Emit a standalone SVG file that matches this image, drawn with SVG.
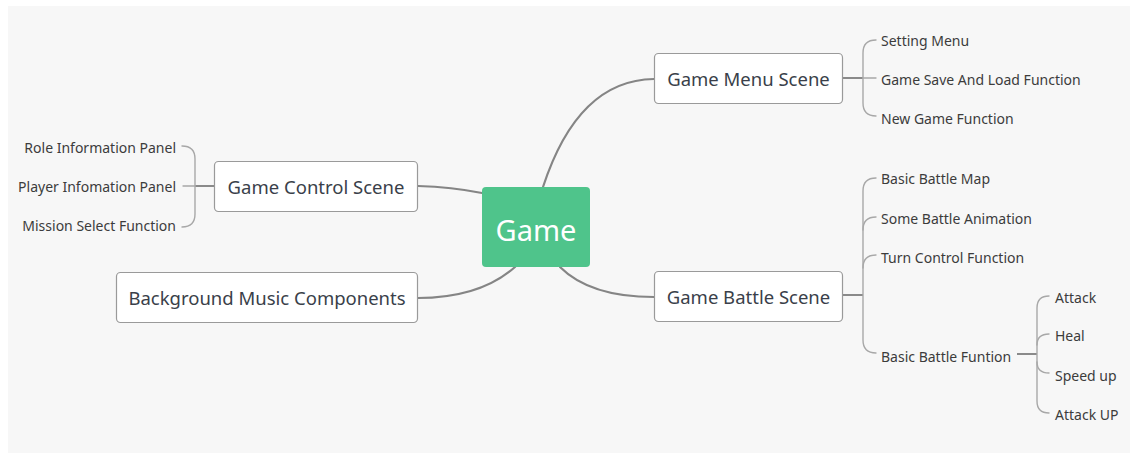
<svg xmlns="http://www.w3.org/2000/svg" width="1130" height="454" viewBox="0 0 1130 454">
  <defs>
    <style>
      .box { fill: #ffffff; stroke: #9a9a9a; stroke-width: 1.2; }
      .main { fill: none; stroke: #858585; stroke-width: 2.2; stroke-linecap: round; }
      .twig { fill: none; stroke: #a8a8a8; stroke-width: 1.4; stroke-linecap: round; }
      .stem { fill: none; stroke: #8a8a8a; stroke-width: 2; }
      .label { font-family: "Noto Sans", "Open Sans", sans-serif; font-size: 18.5px; fill: #3a3f4a; }
      .leaf { font-family: "Noto Sans", "Open Sans", sans-serif; font-size: 14px; fill: #3c3c3c; }
      .root { font-family: "Noto Sans", "Open Sans", sans-serif; font-size: 29px; fill: #ffffff; }
    </style>
  </defs>

  <!-- canvas -->
  <rect x="0" y="0" width="1130" height="454" fill="#ffffff"/>
  <rect x="8" y="6" width="1122" height="447" fill="#f7f7f7"/>

  <!-- connectors -->
  <g id="connectors">
    <!-- root to main topics -->
    <path class="main" d="M543,187 Q578,80 654,79"/>
    <path class="main" d="M560,267 Q590,297 654,297"/>
    <path class="main" d="M418,186 Q452,187 482,193"/>
    <path class="main" d="M515,267 Q480,298 418,298"/>

    <!-- Game Menu Scene branches -->
    <path class="stem" d="M842,78 L863,78"/>
    <path class="twig" d="M876,40 Q863,40 863,53 L863,103 Q863,116 876,116"/>
    <path class="twig" d="M863,78 L876,78"/>

    <!-- Game Battle Scene branches -->
    <path class="stem" d="M842,295 L863,295"/>
    <path class="twig" d="M876,178 Q863,178 863,191 L863,340 Q863,353 876,353"/>
    <path class="twig" d="M863,230 Q863,217 876,217"/>
    <path class="twig" d="M863,268 Q863,255 876,255"/>

    <!-- Basic Battle Funtion branches -->
    <path class="stem" d="M1017,354 L1037,354"/>
    <path class="twig" d="M1049,296 Q1037,296 1037,308 L1037,401 Q1037,413 1049,413"/>
    <path class="twig" d="M1037,345 Q1037,334 1049,334"/>
    <path class="twig" d="M1037,362 Q1037,373 1049,373"/>

    <!-- Game Control Scene branches -->
    <path class="stem" d="M214,186 L195,186"/>
    <path class="twig" d="M182,146 Q195,146 195,159 L195,214 Q195,227 182,227"/>
    <path class="twig" d="M195,186 L183,186"/>
  </g>

  <!-- root -->
  <g id="game">
    <rect x="482" y="187" width="108" height="80" rx="4" fill="#4fc48b"/>
    <text class="root" x="536" y="241" text-anchor="middle">Game</text>
  </g>

  <!-- main topics -->
  <g id="game-menu-scene">
    <rect class="box" x="654.5" y="53.5" width="188" height="50" rx="4"/>
    <text class="label" x="748.5" y="86" text-anchor="middle">Game Menu Scene</text>
  </g>
  <g id="game-battle-scene">
    <rect class="box" x="654.5" y="271.5" width="188" height="50" rx="4"/>
    <text class="label" x="748.5" y="304" text-anchor="middle">Game Battle Scene</text>
  </g>
  <g id="game-control-scene">
    <rect class="box" x="214.5" y="161.5" width="203" height="50" rx="4"/>
    <text class="label" x="316" y="194" text-anchor="middle">Game Control Scene</text>
  </g>
  <g id="background-music-components">
    <rect class="box" x="116.5" y="272.5" width="301" height="50" rx="4"/>
    <text class="label" x="267" y="305" text-anchor="middle">Background Music Components</text>
  </g>

  <!-- Game Menu Scene leaves -->
  <g id="setting-menu"><text class="leaf" x="881" y="46">Setting Menu</text></g>
  <g id="game-save-load"><text class="leaf" x="881" y="85">Game Save And Load Function</text></g>
  <g id="new-game"><text class="leaf" x="881" y="124">New Game Function</text></g>

  <!-- Game Battle Scene leaves -->
  <g id="basic-battle-map"><text class="leaf" x="881" y="184">Basic Battle Map</text></g>
  <g id="some-battle-animation"><text class="leaf" x="881" y="224">Some Battle Animation</text></g>
  <g id="turn-control"><text class="leaf" x="881" y="263">Turn Control Function</text></g>
  <g id="basic-battle-funtion"><text class="leaf" x="881" y="362">Basic Battle Funtion</text></g>

  <!-- Basic Battle Funtion leaves -->
  <g id="attack"><text class="leaf" x="1055" y="303">Attack</text></g>
  <g id="heal"><text class="leaf" x="1055" y="341">Heal</text></g>
  <g id="speed-up"><text class="leaf" x="1055" y="381">Speed up</text></g>
  <g id="attack-up"><text class="leaf" x="1055" y="420">Attack UP</text></g>

  <!-- Game Control Scene leaves -->
  <g id="role-info"><text class="leaf" x="176" y="153" text-anchor="end">Role Information Panel</text></g>
  <g id="player-info"><text class="leaf" x="176" y="192" text-anchor="end">Player Infomation Panel</text></g>
  <g id="mission-select"><text class="leaf" x="176" y="231" text-anchor="end">Mission Select Function</text></g>
</svg>
